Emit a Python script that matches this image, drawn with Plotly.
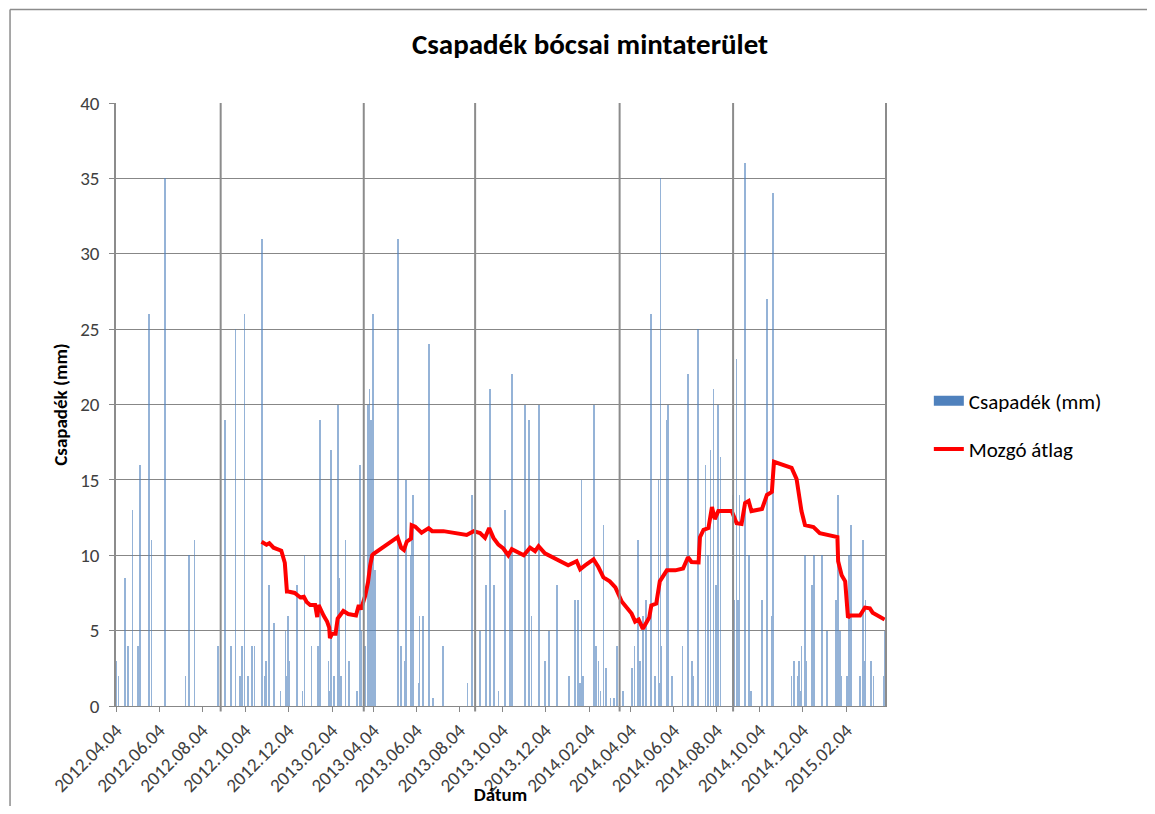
import pandas as pd
import plotly.graph_objects as go

# daily precipitation, only the rainy days (days counted from 2012.04.04)
start_date = pd.Timestamp("2012-04-04")
rain_day = [
    0, 3, 12, 17, 23, 31, 34, 46, 50, 69, 98, 103, 111, 144, 154, 162, 163, 169, 175, 178,
    182, 187, 192, 196, 207, 211, 212, 217, 224, 233, 240, 241, 244, 245, 256, 264, 267, 277,
    286, 287, 289, 301, 302, 305, 309, 314, 316, 319, 325, 330, 341, 345, 346, 348, 353, 357,
    359, 361, 364, 367, 400, 404, 409, 411, 418, 419, 421, 429, 430, 435, 444, 449, 463,
    498, 505, 516, 524, 530, 536, 542, 551, 558, 561, 580, 585, 589, 599, 600, 608, 614, 625,
    642, 651, 655, 658, 660, 662, 678, 680, 684, 687, 691, 695, 701, 706, 710, 719,
    732, 735, 740, 743, 747, 751, 758, 759, 764, 769, 770, 772, 773, 781, 783, 788, 803, 811,
    817, 819, 825, 826, 836, 839, 843, 847, 851, 854, 857, 874, 877, 880, 882, 884, 891, 892,
    898, 900, 916, 923, 930, 931, 932, 958, 961, 967, 968, 971, 972, 977, 978, 987, 990,
    1001, 1008, 1021, 1023, 1024, 1027, 1028, 1037, 1039, 1042, 1055, 1059, 1061, 1063,
    1071, 1074, 1089, 1090,
]
rain_mm = [
    3, 2, 8.5, 4, 13, 4, 16, 26, 11, 35, 2, 10, 11, 4, 19, 3, 4, 25, 2, 4,
    26, 2, 4, 4, 31, 2, 3, 8, 5.5, 1, 5, 2, 6, 3, 8, 1, 10, 4,
    4, 3, 19, 3, 1, 17, 2, 20, 8.5, 2, 11, 3, 1, 14, 16, 5, 4, 20,
    21, 19, 26, 9, 31, 4, 3, 15, 10, 11, 14, 1.5, 6, 6, 24, 0.5, 4,
    1.5, 14, 5, 8, 21, 8, 1, 13, 10, 22, 20, 19, 6, 4, 20, 3, 5, 8,
    2, 7, 7, 1.5, 15, 2, 20, 4, 3, 1, 12, 2.5, 0.5, 0.5, 4, 1,
    2.5, 4, 11, 3, 6, 7, 24, 26, 2, 15, 1.5, 35, 4, 19, 20, 2, 4, 22,
    3, 2, 25, 5, 16, 10, 17, 21, 8, 20, 16.5, 14, 7, 23, 7, 14, 22, 36,
    10, 1, 7, 27, 6, 28, 34, 2, 3, 2, 3, 1, 4, 10, 3, 8, 10,
    10, 5, 7, 11, 14, 5, 2, 2, 10, 12, 2, 11, 3, 7,
    3, 2, 2, 5,
]

# moving average
avg_day = [
    206, 213, 217, 223, 234, 239, 242, 244, 253, 261, 266, 270, 275, 282, 285, 287, 294, 299,
    302, 303, 306, 311, 314, 322, 329, 340, 344, 347, 353, 357, 360, 363, 365, 384, 399, 404,
    408, 412, 418, 419, 424, 433, 443, 448, 464, 497, 507, 516, 523, 529, 535, 542, 549, 556,
    561, 578, 587, 594, 599, 608, 625, 641, 653, 658, 665, 677, 684, 691, 700, 708, 717, 723,
    731, 736, 741, 747, 756, 759, 766, 771, 781, 793, 804, 811, 816, 826, 828, 833, 840, 845,
    849, 854, 873, 880, 887, 892, 897, 901, 916, 923, 930, 933, 958, 965, 972, 977, 989, 998,
    1023, 1024, 1029, 1034, 1038, 1041, 1055, 1062, 1069, 1073, 1090,
]
avg_mm = [
    10.9, 10.7, 10.8, 10.5, 10.3, 9.5, 7.6, 7.6, 7.5, 7.2, 7.25, 6.9, 6.7, 6.7, 5.9, 6.7, 6.0, 5.6,
    5.2, 4.5, 4.8, 4.8, 5.8, 6.3, 6.1, 6.0, 6.7, 6.4, 7.3, 8.2, 9.3, 10.0, 10.1, 10.7, 11.2, 10.5,
    10.35, 10.9, 11.1, 12.0, 11.9, 11.5, 11.8, 11.6, 11.6, 11.35, 11.6, 11.47, 11.15, 11.8, 11.15, 10.7, 10.45, 10.0,
    10.4, 10.0, 10.5, 10.27, 10.6, 10.13, 9.73, 9.33, 9.6, 9.07, 9.33, 9.73, 9.2, 8.53, 8.27, 7.87, 6.93, 6.6,
    6.13, 5.6, 5.73, 5.12, 5.87, 6.67, 6.8, 8.27, 9.0, 9.0, 9.12, 9.87, 9.55, 9.52, 11.2, 11.68, 11.8, 13.2,
    12.4, 12.93, 12.93, 12.13, 12.08, 13.47, 13.6, 12.93, 13.07, 14.0, 14.2, 16.2, 15.8, 15.07, 12.93, 12.0, 11.87, 11.47,
    11.2, 9.6, 8.67, 8.27, 5.87, 6.0, 6.0, 6.53, 6.48, 6.19, 5.73,
]

# dark vertical separator lines
marker_day = [148, 351, 509, 714, 875]

tick_text = [
    "2012.04.04", "2012.06.04", "2012.08.04", "2012.10.04", "2012.12.04",
    "2013.02.04", "2013.04.04", "2013.06.04", "2013.08.04", "2013.10.04", "2013.12.04",
    "2014.02.04", "2014.04.04", "2014.06.04", "2014.08.04", "2014.10.04", "2014.12.04",
    "2015.02.04",
]
tick_dates = pd.to_datetime(tick_text, format="%Y.%m.%d")

rain_dates = start_date + pd.to_timedelta(rain_day, unit="D")
avg_dates = start_date + pd.to_timedelta(avg_day, unit="D")
marker_dates = start_date + pd.to_timedelta(marker_day, unit="D")

FONT = "Carlito, Calibri, Lato, sans-serif"
GRID = "#878787"
BLUE = "#4F81BD"

fig = go.Figure()
fig.add_trace(go.Bar(x=rain_dates, y=rain_mm, name="Csapadék (mm)",
                     width=86400000, marker_color=BLUE, marker_line_width=0,
                     opacity=0.6, showlegend=False))
# legend entry drawn as a wide blue block like the Excel legend
fig.add_trace(go.Scatter(x=[None], y=[None], name="Csapadék (mm)", mode="lines",
                         line=dict(color=BLUE, width=10), legendgroup="a"))
fig.add_trace(go.Scatter(x=avg_dates, y=avg_mm, name="Mozgó átlag", mode="lines",
                         line=dict(color="#FF0000", width=4), legendgroup="b"))

for d in marker_dates:
    fig.add_shape(type="line", xref="x", yref="paper", x0=d, x1=d, y0=-0.009, y1=1,
                  line=dict(color="#8c8c8c", width=2), layer="above")

# chart area border (left and top edges, the rest is outside the picture)
fig.add_shape(type="line", xref="paper", yref="paper", x0=-0.1378, x1=-0.1378, y0=-0.3, y1=1.155,
              line=dict(color="#8c8c8c", width=1.5), layer="below")
fig.add_shape(type="line", xref="paper", yref="paper", x0=-0.1378, x1=1.6, y0=1.155, y1=1.155,
              line=dict(color="#8c8c8c", width=1.5), layer="below")

fig.update_layout(
    width=1139, height=798,
    margin=dict(l=108, r=262, t=95, b=100),
    paper_bgcolor="white", plot_bgcolor="white",
    font=dict(family=FONT, color="#404040", size=18),
    bargap=0,
    title=dict(text="<b>Csapadék bócsai mintaterület</b>", x=0.511, xanchor="center",
               y=0.955, yanchor="middle", xref="container",
               font=dict(size=29, color="#000000", family=FONT)),
    legend=dict(x=1.057, y=0.466, xanchor="left", yanchor="middle",
                font=dict(size=21, color="#000000", family=FONT),
                tracegroupgap=18, traceorder="grouped", bgcolor="rgba(0,0,0,0)"),
    showlegend=True,
)
fig.update_xaxes(
    type="date",
    range=[start_date - pd.Timedelta(hours=12), start_date + pd.Timedelta(days=1090, hours=12)],
    tickvals=tick_dates, ticktext=tick_text, tickangle=-45,
    tickfont=dict(size=19, color="#404040"),
    ticks="outside", ticklen=5, tickcolor=GRID,
    showgrid=False, showline=True, linecolor=GRID, linewidth=1,
    title=dict(text="<b>Dátum</b>", font=dict(size=19, color="#000000"), standoff=5),
    automargin=False,
)
fig.update_yaxes(
    range=[0, 40], dtick=5,
    tickfont=dict(size=19, color="#404040"),
    ticks="outside", ticklen=5, tickcolor=GRID, ticklabelstandoff=6,
    showgrid=True, gridcolor=GRID, gridwidth=1,
    showline=True, linecolor="#8c8c8c", linewidth=1.5, mirror=True,
    zeroline=False,
    title=dict(text="<b>Csapadék (mm)</b>", font=dict(size=19, color="#000000"), standoff=8),
    automargin=False,
)

fig.write_html("out.html")
